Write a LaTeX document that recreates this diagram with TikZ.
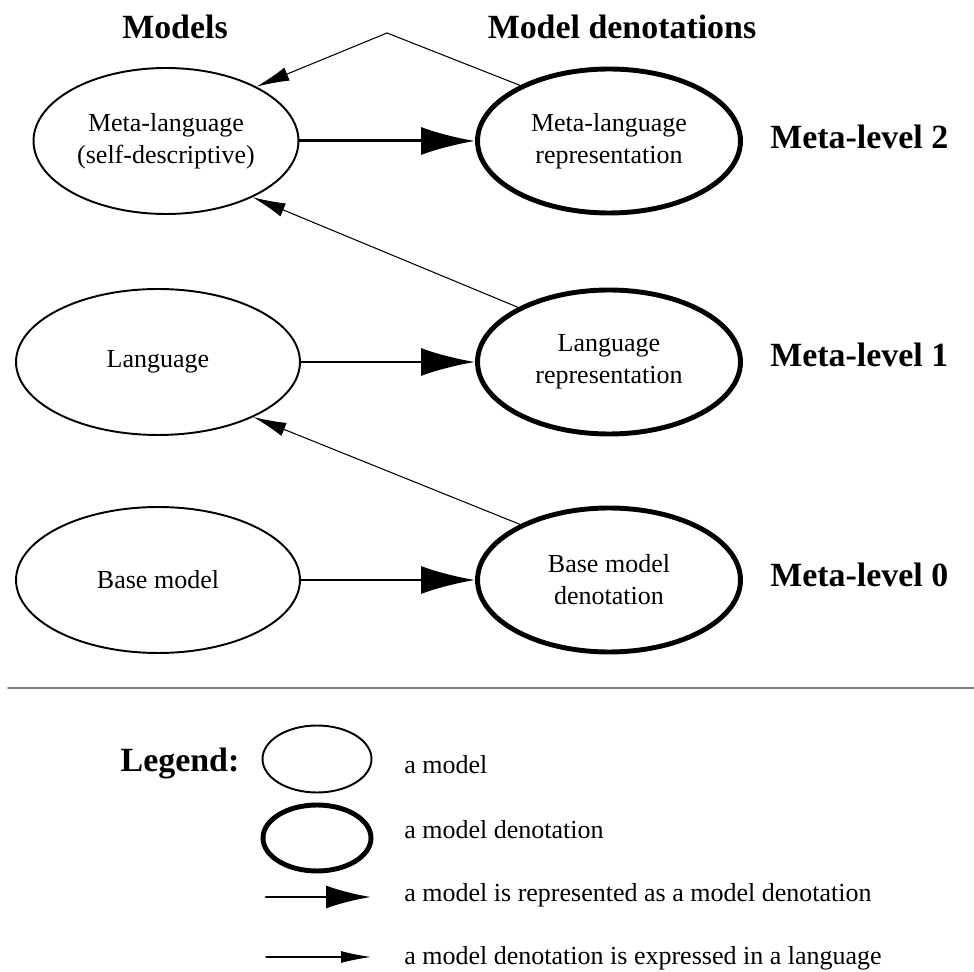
\documentclass[tikz,border=0pt]{standalone}
\usepackage{fontspec}
\setmainfont{Liberation Serif}
\usetikzlibrary{shapes.geometric,arrows.meta}

\begin{document}
\begin{tikzpicture}[x=0.02cm,y=-0.02cm,line cap=round,
  every node/.style={inner sep=0pt,font=\fontsize{14.8}{18.2}\selectfont},
  model/.style={draw,ellipse,line width=1.1pt,align=center,minimum width=5.68cm,minimum height=2.92cm},
  denot/.style={draw,ellipse,line width=2.8pt,align=center,minimum width=5.26cm,minimum height=2.88cm},
  title/.style={font=\fontsize{19.3}{23}\selectfont\bfseries},
  rep/.style={line width=1.7pt,-{Latex[length=1.08cm,width=0.56cm]}},
  expr/.style={line width=0.6pt,-{Latex[length=0.66cm,width=0.28cm]}}]
  \useasboundingbox (0,0) rectangle (974,972);
% column headers
  \node[title] (hmod) at (175,27) {Models};
  \node[title] (hden) at (622,27) {Model denotations};
% models and their denotations
  \node[model,minimum width=5.3cm] (meta) at (166,141) {Meta-language\\(self-descriptive)};
  \node[model] (lang) at (158,362) {Language};
  \node[model] (base) at (158,580) {Base model};
  \node[denot] (mrep) at (609,141) {Meta-language\\representation};
  \node[denot] (lrep) at (609,362) {Language\\representation};
  \node[denot] (bden) at (609,580) {Base model\\denotation};
  \foreach \n/\y in {2/137,1/355,0/575}
    \node[title,anchor=west] (lvl\n) at (770,\y) {Meta-level \n};
  \foreach \a/\b in {meta/mrep,lang/lrep,base/bden}
    \draw[rep] (\a) -- (\b);
  \coordinate (peak) at (387,33);
  \draw[expr] (mrep.148.7) -- (peak) -- (meta.31.6);
  \draw[expr] (lrep.149) -- (meta.-33);
  \draw[expr] (bden.148) -- (lang.-30);
% legend
  \draw[gray,line width=1.1pt] (8,688) -- (974,688);
  \node[title] (leg) at (180,763) {Legend:};
  \node[model,minimum width=2.18cm,minimum height=1.34cm] (kmod) at (317,759) {};
  \node[denot,minimum width=2.16cm,minimum height=1.32cm] (kden) at (317,838) {};
  \node[anchor=west] (tmod) at (404,765) {a model};
  \node[anchor=west] (tden) at (404,830) {a model denotation};
  \node[anchor=west] (trep) at (404,895) {a model is represented as a model denotation};
  \node[anchor=west] (texp) at (404,958) {a model denotation is expressed in a language};
  \coordinate (r1) at (266,897); \coordinate (r2) at (371,897);
  \coordinate (e1) at (266,957); \coordinate (e2) at (371,957);
  \draw[rep,-{Latex[length=0.9cm,width=0.46cm]}] (r1) -- (r2);
  \draw[expr,-{Latex[length=0.6cm,width=0.24cm]}] (e1) -- (e2);
\end{tikzpicture}
\end{document}
